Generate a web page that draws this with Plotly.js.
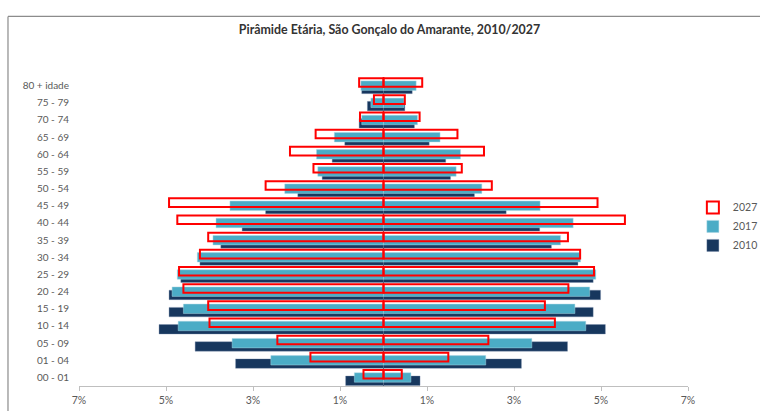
<!DOCTYPE html>
<html>
<head>
<meta charset="utf-8">
<script src="https://cdn.plot.ly/plotly-3.0.1.min.js"></script>
<style>
  html, body { margin: 0; padding: 0; background: #fff; }
  #chart { width: 760px; height: 411px; }
</style>
</head>
<body>
<div id="chart"></div>
<script>
// Age groups, bottom to top
const ageGroups = ['00 - 01','01 - 04','05 - 09','10 - 14','15 - 19','20 - 24','25 - 29','30 - 34','35 - 39','40 - 44','45 - 49','50 - 54','55 - 59','60 - 64','65 - 69','70 - 74','75 - 79','80 + idade'];

// Left side (share of population, %)
const left2010 = [0.87, 3.40, 4.33, 5.16, 4.93, 4.93, 4.66, 4.22, 3.74, 3.25, 2.71, 1.97, 1.41, 1.18, 0.89, 0.56, 0.37, 0.50];
const left2017 = [0.67, 2.59, 3.48, 4.72, 4.60, 4.86, 4.74, 4.28, 3.92, 3.85, 3.53, 2.27, 1.51, 1.54, 1.13, 0.50, 0.29, 0.52];
const left2027 = [0.46, 1.68, 2.44, 4.00, 4.03, 4.60, 4.70, 4.22, 4.03, 4.74, 4.93, 2.71, 1.61, 2.15, 1.56, 0.54, 0.22, 0.56];

// Right side (share of population, %)
const right2010 = [0.84, 3.17, 4.23, 5.10, 4.82, 4.99, 4.82, 4.47, 3.86, 3.59, 2.82, 2.09, 1.54, 1.43, 1.05, 0.71, 0.49, 0.66];
const right2017 = [0.63, 2.35, 3.41, 4.65, 4.40, 4.74, 4.88, 4.53, 4.07, 4.36, 3.60, 2.26, 1.67, 1.77, 1.30, 0.78, 0.47, 0.75];
const right2027 = [0.42, 1.49, 2.41, 3.94, 3.71, 4.25, 4.84, 4.52, 4.24, 5.55, 4.92, 2.49, 1.80, 2.31, 1.70, 0.83, 0.49, 0.89];

const xTickVals = [-7, -5, -3, -1, 1, 3, 5, 7];
const xTickText = ['7%', '5%', '3%', '1%', '1%', '3%', '5%', '7%'];

const seriesNames = ['2010', '2017', '2027'];

const neg = a => a.map(v => -v);

const styles = {
  '2010': { marker: { color: '#17375e', line: { color: 'rgba(120,140,170,0.6)', width: 0.6 } }, offset: -0.47, width: 0.55, rank: 3 },
  '2017': { marker: { color: '#4bacc6', line: { color: 'rgba(170,215,228,0.8)', width: 0.6 } }, offset: -0.28, width: 0.55, rank: 2 },
  '2027': { marker: { color: 'rgba(0,0,0,0)', line: { color: '#ff0000', width: 2 } }, offset: -0.07, width: 0.5, rank: 1 }
};

const leftData = { '2010': left2010, '2017': left2017, '2027': left2027 };
const rightData = { '2010': right2010, '2017': right2017, '2027': right2027 };

const traces = [];
seriesNames.forEach(name => {
  const s = styles[name];
  traces.push({
    type: 'bar', orientation: 'h', name: name,
    y: ageGroups, x: neg(leftData[name]),
    marker: s.marker, offset: s.offset, width: s.width,
    showlegend: false, legendgroup: name, hoverinfo: 'skip'
  });
  traces.push({
    type: 'bar', orientation: 'h', name: name,
    y: ageGroups, x: rightData[name],
    marker: s.marker, offset: s.offset, width: s.width,
    showlegend: true, legendgroup: name, legendrank: s.rank, hoverinfo: 'skip'
  });
});

const fontFam = 'Lato, "Open Sans", sans-serif';

const layout = {
  width: 760, height: 411,
  margin: { l: 79, r: 72, t: 77, b: 24.5, pad: 0, autoexpand: false },
  paper_bgcolor: '#ffffff', plot_bgcolor: '#ffffff',
  barmode: 'overlay',
  font: { family: fontFam, size: 10.5, color: '#595959' },
  title: {
    text: 'Pirâmide Etária, São Gonçalo do Amarante, 2010/2027',
    font: { family: fontFam, size: 12.4, color: '#333333', weight: 'bold' },
    x: 0.5125, xref: 'container', xanchor: 'center',
    y: 0.927, yref: 'container', yanchor: 'middle'
  },
  xaxis: {
    range: [-7, 7], tickvals: xTickVals, ticktext: xTickText,
    showgrid: false, zeroline: true, zerolinecolor: '#5a5a5a', zerolinewidth: 1,
    showline: true, linecolor: '#bfbfbf', linewidth: 1,
    ticks: 'outside', ticklen: 4, tickcolor: '#bfbfbf',
    tickfont: { family: fontFam, size: 10.5, color: '#595959' },
    layer: 'above traces',
    fixedrange: true
  },
  yaxis: {
    type: 'category', categoryorder: 'array', categoryarray: ageGroups,
    range: [-0.5, ageGroups.length - 0.5],
    showgrid: false, zeroline: false, showline: false, ticks: '',
    ticklabelstandoff: 9,
    tickfont: { family: fontFam, size: 10, color: '#595959' },
    fixedrange: true
  },
  legend: {
    x: 1.008, xanchor: 'left', y: 0.625, yanchor: 'top',
    font: { family: fontFam, size: 10.5, color: '#595959' },
    bgcolor: 'rgba(0,0,0,0)', tracegroupgap: 0, itemwidth: 30
  },
  shapes: [
    { type: 'line', xref: 'paper', yref: 'paper', x0: -0.1166, x1: 1.2, y0: 1.196, y1: 1.196, line: { color: '#8c8c8c', width: 1.2 } },
    { type: 'line', xref: 'paper', yref: 'paper', x0: -0.1166, x1: -0.1166, y0: 1.196, y1: -0.2, line: { color: '#8c8c8c', width: 1.2 } }
  ],
  showlegend: true
};

Plotly.newPlot('chart', traces, layout, { displayModeBar: false, staticPlot: true });
</script>
</body>
</html>
